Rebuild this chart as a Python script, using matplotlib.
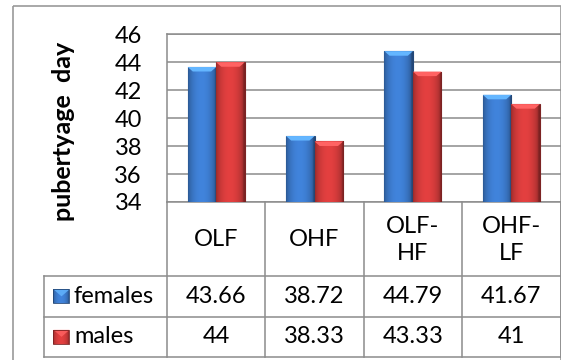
import numpy as np
import matplotlib
matplotlib.use("Agg")
import matplotlib.pyplot as plt
from matplotlib.patches import Rectangle, Polygon
from matplotlib.transforms import blended_transform_factory

categories = ["OLF", "OHF", "OLF-\nHF", "OHF-\nLF"]
females = [43.66, 38.72, 44.79, 41.67]
males = [44, 38.33, 43.33, 41]
series_names = ["females", "males"]
yticks = [34, 36, 38, 40, 42, 44, 46]
ylabel = "pubertyage  day"

BLUE = np.array([0x3B, 0x78, 0xC8]) / 255
RED = np.array([0xCF, 0x3A, 0x3A]) / 255
GRID = "#8c8c8c"
FONT = "Lato"
FS = 17

W, H = 561, 360
fig = plt.figure(figsize=(W / 100, H / 100), dpi=100)

# full-figure overlay in pixel units for frame, table and labels
ov = fig.add_axes([0, 0, 1, 1], zorder=0)
ov.set_xlim(0, W)
ov.set_ylim(H, 0)
ov.axis("off")

# plot area
left_px, right_px, top_px, bot_px = 167, 560.5, 34.3, 202
ax = fig.add_axes([left_px / W, 1 - bot_px / H, (right_px - left_px) / W,
                   (bot_px - top_px) / H], zorder=2)
ax.patch.set_alpha(0)
ax.set_xlim(-0.5, len(categories) - 0.5)
ax.set_ylim(yticks[0], yticks[-1])
ax.set_yticks(yticks)
ax.set_xticks([])
ax.tick_params(axis="y", length=0, pad=18, labelsize=FS)
for lab in ax.get_yticklabels():
    lab.set_fontfamily(FONT)
ax.grid(axis="y", color=GRID, lw=1.1)
ax.set_axisbelow(True)
for s in ["left", "bottom", "top"]:
    ax.spines[s].set_color(GRID)
    ax.spines[s].set_linewidth(1.1)
ax.spines["right"].set_visible(False)


def shade_bar(patch, base):
    """Paint a bevelled gradient inside a bar patch."""
    x0, y0 = patch.get_x(), patch.get_y()
    w, h = patch.get_width(), patch.get_height()
    u = np.linspace(0, 1, 64)
    prof = 0.72 + 0.38 * np.sin(np.clip(u * 1.05, 0, 1) * np.pi) ** 0.6
    prof[-6:] *= np.linspace(1, 0.8, 6)
    img = np.clip(base[None, None, :] * prof[None, :, None], 0, 1)
    img = np.repeat(img, 2, axis=0)
    im = ax.imshow(img, extent=[x0, x0 + w, y0, y0 + h], aspect="auto",
                   zorder=3, interpolation="bilinear")
    im.set_clip_path(patch)
    bh = 4.5 / 13.97
    top = y0 + h
    light = np.clip(base * 1.35 + 0.08, 0, 1)
    ax.add_patch(Polygon([[x0, top], [x0 + w, top], [x0 + w * 0.82, top - bh],
                          [x0 + w * 0.18, top - bh]], closed=True,
                         fc=light, ec="none", zorder=4))
    ax.set_xlim(-0.5, len(categories) - 0.5)
    ax.set_ylim(yticks[0], yticks[-1])


bw = 0.29
x = np.arange(len(categories))
for vals, col, off in [(females, BLUE, -bw / 2), (males, RED, bw / 2)]:
    bars = ax.bar(x + off, np.array(vals) - yticks[0], bw, bottom=yticks[0],
                  color=col * 0.85, edgecolor=col * 0.6, lw=0.8, zorder=3)
    for p in bars:
        shade_bar(p, col)

fig.text(64 / W, 1 - 131 / H, ylabel, rotation=90, ha="center", va="center",
         fontsize=18, fontweight="bold", family=FONT)

# outer chart frame
ov.add_patch(Rectangle((12.7, 6), 548, 370, fill=False, ec="#9a9a9a", lw=1.2))

# data table under the plot
fig.canvas.draw()
bt = blended_transform_factory(ax.transData, ov.transData)
edges = np.arange(len(categories) + 1) - 0.5
row_top, row_mid, row_bot = 276, 316.7, 357
tbl_left = 44
for e in edges:
    ov.plot([e, e], [bot_px, row_bot], color=GRID, lw=1.1, transform=bt)
for yy in [row_top, row_mid, row_bot]:
    ov.plot([tbl_left, W], [yy, yy], color=GRID, lw=1.1)
ov.plot([tbl_left, tbl_left], [row_top, row_bot], color=GRID, lw=1.1)

for i, c in enumerate(categories):
    ov.text(i, 240, c, transform=bt, ha="center", va="center", fontsize=FS,
            family=FONT, linespacing=1.3)

rows = [(females, BLUE, (row_top + row_mid) / 2),
        (males, RED, (row_mid + row_bot) / 2)]
for (vals, col, yc), name in zip(rows, series_names):
    for i, v in enumerate(vals):
        ov.text(i, yc, f"{v:g}", transform=bt, ha="center", va="center",
                fontsize=FS, family=FONT)
    # legend key swatch
    kx, kw, kh = 53.5, 16, 14
    u = np.linspace(0, 1, 16)
    prof = 0.75 + 0.35 * np.sin(u * np.pi) ** 0.6
    img = np.clip(col[None, None, :] * prof[None, :, None], 0, 1)
    img = np.repeat(img, 2, axis=0)
    ov.imshow(img, extent=[kx, kx + kw, yc + kh / 2, yc - kh / 2],
              aspect="auto", zorder=3, interpolation="bilinear")
    ov.add_patch(Polygon([[kx, yc - kh / 2], [kx + kw, yc - kh / 2],
                          [kx + kw / 2, yc]], closed=True,
                         fc=np.clip(col * 1.35 + 0.08, 0, 1), ec="none",
                         zorder=4, alpha=0.8))
    ov.add_patch(Rectangle((kx, yc - kh / 2), kw, kh, fill=False,
                           ec=col * 0.6, lw=0.6, zorder=5))
    ov.text(74, yc, name, ha="left", va="center", fontsize=FS, family=FONT)

ov.set_xlim(0, W)
ov.set_ylim(H, 0)
fig.savefig("out.png", dpi=100)
